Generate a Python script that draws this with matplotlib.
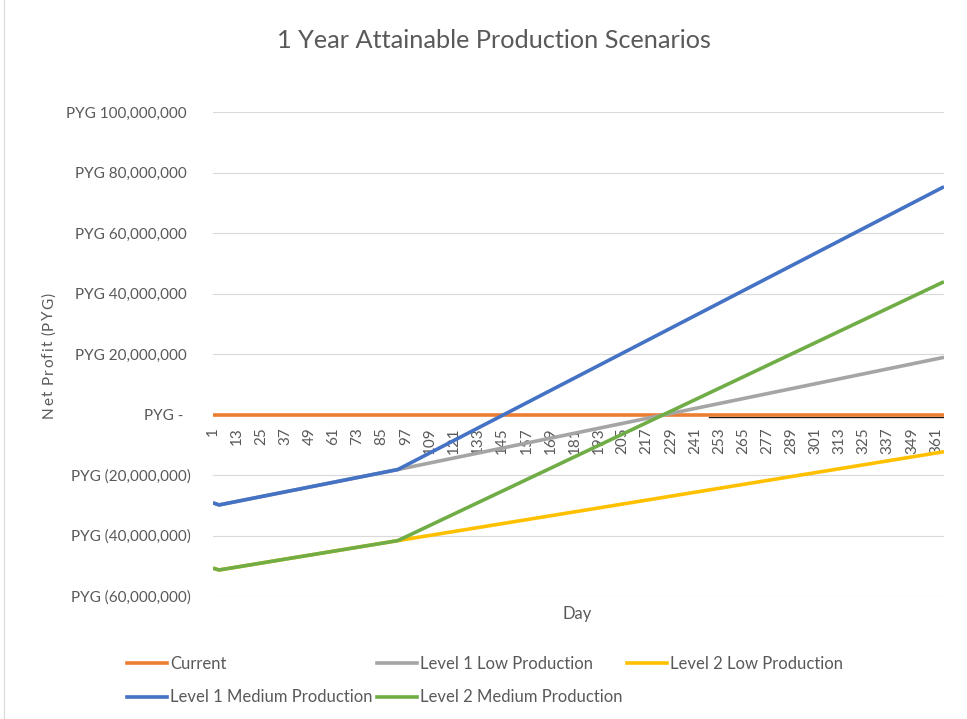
import matplotlib
matplotlib.use("Agg")
import matplotlib.pyplot as plt
import matplotlib.transforms as mtransforms
from matplotlib.lines import Line2D
from matplotlib.ticker import FuncFormatter

plt.rcParams['font.family'] = ['Lato', 'DejaVu Sans']

# Net profit (PYG millions) at the days where each scenario's trend changes
days = [1, 4, 93, 365]
current = [0, 0, 0, 0]
level1_low = [-29.2, -29.9, -18.2, 18.9]
level2_low = [-50.8, -51.4, -41.7, -12.3]
level1_medium = [-29.2, -29.9, -18.2, 75.3]
level2_medium = [-50.8, -51.4, -41.7, 43.9]
baseline_days = [248, 365]

series_names = ["Current", "Level 1 Low Production", "Level 2 Low Production",
                "Level 1 Medium Production", "Level 2 Medium Production"]
series_values = [current, level1_low, level2_low, level1_medium, level2_medium]
series_colors = ["#ED7D31", "#A5A5A5", "#FFC000", "#4472C4", "#70AD47"]

x_ticks = list(range(1, 366, 12))
y_ticks = list(range(-60, 101, 20))

TEXT = "#595959"
W, H = 967, 719
LW = 2.6

fig = plt.figure(figsize=(W / 100, H / 100), dpi=100)
ax = fig.add_axes([213 / W, 1 - 596 / H, 731 / W, 484 / H])

for s in ["left", "right", "top", "bottom"]:
    ax.spines[s].set_visible(False)
ax.spines["bottom"].set_position(("data", 0))

# thin dark baseline peeking out under the flat series
base_tr = mtransforms.offset_copy(ax.transData, fig=fig, x=0, y=-2.2, units='dots')
ax.plot(baseline_days, [0, 0], color="#1a1a1a", lw=1.0, transform=base_tr, zorder=1.5)

lines = {}
for name, vals, col in zip(series_names, series_values, series_colors):
    ys = [v * 1e6 for v in vals]
    ln, = ax.plot(days, ys, color=col, lw=LW, solid_joinstyle='round',
                  solid_capstyle='butt', zorder=2)
    lines[name] = ln

ax.set_xlim(1, 365)
ax.set_ylim(y_ticks[0] * 1e6, y_ticks[-1] * 1e6)
ax.set_yticks([v * 1e6 for v in y_ticks])
ax.set_xticks(x_ticks)
ax.set_xticklabels([str(d) for d in x_ticks])


def pyg(v, pos):
    n = int(round(v))
    if n == 0:
        return "PYG -  "
    if n < 0:
        return f"PYG ({abs(n):,})"
    return f"PYG {n:,} "


ax.yaxis.set_major_formatter(FuncFormatter(pyg))
ax.yaxis.grid(True, color="#d9d9d9", lw=0.8)
ax.set_axisbelow(True)

ax.tick_params(axis='y', length=0, pad=16, labelsize=11, labelcolor=TEXT)
ax.tick_params(axis='x', length=0, pad=9, labelsize=11, labelcolor=TEXT,
               labelrotation=90)

fig.text(494 / W, 1 - 40 / H, "1 Year Attainable Production Scenarios",
         ha='center', va='center', fontsize=18.2, color=TEXT)
fig.text(577 / W, 1 - 614 / H, "Day", ha='center', va='center',
         fontsize=12, color=TEXT)

# letter-spaced vertical axis title
ytitle = "Net Profit (PYG)"
ytitle_len = 125.0
renderer = fig.canvas.get_renderer()


def text_width(s):
    t = fig.text(0, 0, s + "|", fontsize=11)
    bar = fig.text(0, 0, "|", fontsize=11)
    w = t.get_window_extent(renderer).width - bar.get_window_extent(renderer).width
    t.remove()
    bar.remove()
    return w


natural = text_width(ytitle)
gap = (ytitle_len - natural) / (len(ytitle) - 1)
y0 = (H - 355) - ytitle_len / 2
for i, ch in enumerate(ytitle):
    if ch == " ":
        continue
    pos = y0 + text_width(ytitle[:i]) + i * gap
    fig.text(53 / W, pos / H, ch, rotation=90, rotation_mode='anchor',
             ha='left', va='baseline', fontsize=11, color=TEXT)

order = ["Current", "Level 1 Medium Production", "Level 1 Low Production",
         "Level 2 Medium Production", "Level 2 Low Production"]
handles = [Line2D([], [], color=lines[n].get_color(), lw=LW) for n in order]
fig.legend(handles, order, loc='upper left', bbox_to_anchor=(127 / W, 1 - 656 / H),
           ncol=3, frameon=False, fontsize=12, labelcolor=TEXT,
           handlelength=2.4, handletextpad=0.2, columnspacing=0.25,
           labelspacing=1.04, borderpad=0, borderaxespad=0)

# chart frame
fig.add_artist(plt.Rectangle((3.5 / W, -0.01), 1.02, 1.02, transform=fig.transFigure,
                             fill=False, edgecolor="#d9d9d9", lw=0.8))

fig.savefig("out.png", dpi=100)
